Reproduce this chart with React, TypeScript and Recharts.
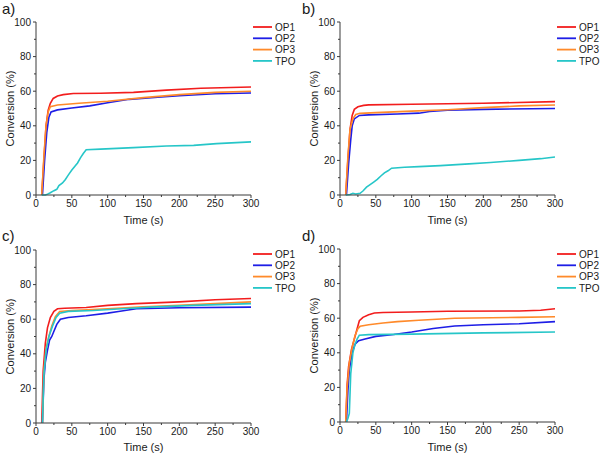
import React from 'react';
import { LineChart, Line, XAxis, YAxis } from 'recharts';

type Pt = [number, number];

// ---- Series names and colours ----
const seriesNames = ['OP1', 'OP2', 'OP3', 'TPO'];
const seriesColors = ['#f21d1d', '#1e1ee6', '#ff8a2a', '#26c6c8'];

// ---- Axis ticks ----
const timeTicks = [0, 25, 50, 75, 100, 125, 150, 175, 200, 225, 250, 275, 300];
const convTicks = [0, 10, 20, 30, 40, 50, 60, 70, 80, 90, 100];

// ---- Panel a) : [time (s), conversion (%)] ----
const aOP1: Pt[] = [[8, 0], [11, 20], [14, 40], [17, 49], [20, 53], [24, 55.8], [30, 57.2], [38, 58], [52, 58.7], [90, 58.8], [136, 59.3], [182, 60.6], [230, 61.7], [300, 62.4]];
const aOP2: Pt[] = [[9, 0], [12, 20], [15, 36], [18, 45], [21, 48], [30, 49.2], [50, 50.3], [75, 51.5], [100, 53.3], [130, 55.3], [170, 56.5], [200, 57.4], [250, 58.5], [300, 59]];
const aOP3: Pt[] = [[8, 0], [11, 22], [14, 40], [17, 48], [20, 51], [30, 52], [60, 53], [100, 54.2], [150, 56.3], [200, 58], [250, 59.3], [300, 60]];
const aTPO: Pt[] = [[8, 0], [13, 0], [16, 0.5], [20, 1.3], [25, 2.5], [29, 3.3], [32, 5.5], [37, 7], [41, 9], [45, 11.5], [50, 14.4], [54, 16.5], [58, 18.5], [62, 21.5], [66, 24], [70, 26.2], [90, 26.5], [136, 27.4], [182, 28.3], [220, 28.7], [252, 29.7], [300, 30.7]];

// ---- Panel b) ----
const bOP1: Pt[] = [[8, 0], [11, 20], [14, 38], [17, 46], [20, 49.5], [25, 51], [33, 51.8], [40, 52.1], [100, 52.5], [200, 53], [300, 54]];
const bOP2: Pt[] = [[9, 0], [12, 18], [15, 32], [17, 40], [20, 44], [27, 46], [40, 46.3], [80, 46.8], [110, 47.3], [125, 48.3], [150, 49], [200, 49.5], [300, 50]];
const bOP3: Pt[] = [[8, 0], [11, 22], [14, 38], [18, 44], [22, 46.5], [28, 47.2], [50, 47.6], [100, 48.5], [150, 49.3], [200, 50.5], [250, 51.5], [300, 52]];
const bTPO: Pt[] = [[8, 0], [14, 0.3], [18, 1], [22, 0.6], [28, 1], [32, 2.3], [37, 4.5], [42, 6], [47, 7.5], [52, 9], [57, 11], [62, 12.8], [67, 14], [72, 15.5], [90, 16], [110, 16.4], [140, 17], [180, 18], [210, 18.8], [250, 20], [280, 21], [300, 22]];

// ---- Panel c) ----
const cOP1: Pt[] = [[8, 0], [10, 30], [13, 46], [16, 55], [20, 61], [25, 64.5], [30, 66], [40, 66.3], [70, 66.8], [100, 68], [140, 69], [200, 70], [250, 71.2], [300, 72]];
const cOP2: Pt[] = [[9, 0], [11, 25], [13, 35], [16, 42], [19, 48], [22, 50], [25, 53], [29, 57], [34, 60], [45, 61], [70, 62], [100, 63.5], [115, 64.5], [140, 66], [200, 66.6], [300, 67]];
const cOP3: Pt[] = [[9, 0], [11, 30], [14, 43], [18, 50], [22, 56], [27, 61.5], [33, 64.5], [50, 65], [100, 66], [150, 67.2], [200, 68], [250, 69], [300, 70]];
const cTPO: Pt[] = [[9, 0], [11, 28], [14, 42], [18, 50], [23, 56], [28, 61], [33, 63.5], [45, 64.5], [80, 65], [120, 66], [160, 67], [220, 68], [300, 69]];

// ---- Panel d) ----
const dOP1: Pt[] = [[8, 0], [10, 22], [12, 32], [16, 42], [20, 48], [24, 54], [27, 58.5], [32, 60.5], [40, 62], [48, 63], [60, 63.3], [100, 63.6], [150, 64], [250, 64.2], [280, 64.6], [300, 65.5]];
const dOP2: Pt[] = [[9, 0], [11, 18], [13, 30], [17, 40], [21, 45], [26, 47], [35, 48], [50, 49.5], [75, 50.6], [100, 52], [130, 54], [160, 55.5], [200, 56.2], [250, 56.8], [300, 58]];
const dOP3: Pt[] = [[8, 0], [10, 20], [13, 34], [17, 43], [21, 50], [25, 54], [28, 55.3], [40, 56.2], [60, 57.2], [80, 58], [110, 58.8], [160, 60], [250, 60.5], [300, 60.8]];
const dTPO: Pt[] = [[9, 0], [11, 2], [13, 5], [15, 28], [18, 40], [21, 45], [24, 48], [27, 50.2], [40, 50.5], [100, 50.8], [200, 51.5], [300, 52]];

const FONT = '"Liberation Sans", Arial, sans-serif';
const AXIS = '#3a3a3a';
const TEXT = '#1a1a1a';

const toPoints = (pts: Pt[]) => pts.map(([t, v]) => ({ t, v }));

const XTick = (props: any) => {
  const { x, y, payload } = props;
  const major = payload.value % 50 === 0;
  return (
    <g>
      <line x1={x} x2={x} y1={y} y2={y + (major ? 3 : 2)} stroke={AXIS} strokeWidth={1} />
      {major && (
        <text x={x} y={y + 12} textAnchor="middle" fontSize={10} fontFamily={FONT} fill={TEXT}>
          {payload.value}
        </text>
      )}
    </g>
  );
};

const YTick = (props: any) => {
  const { x, y, payload } = props;
  const major = payload.value % 20 === 0;
  return (
    <g>
      <line x1={x - (major ? 3 : 2)} x2={x} y1={y} y2={y} stroke={AXIS} strokeWidth={1} />
      {major && (
        <text x={x - 5} y={y + 3.5} textAnchor="end" fontSize={10} fontFamily={FONT} fill={TEXT}>
          {payload.value}
        </text>
      )}
    </g>
  );
};

type PanelProps = {
  tag: string;
  series: Pt[][];
  left: number;
  top: number;
  axisWidth: number;
  plotTop: number;
  plotRight: number;
  plotBottom: number;
};

const W = 300;
const H = 227;

const Panel = ({ tag, series, left, top, axisWidth, plotTop, plotRight, plotBottom }: PanelProps) => {
  const legendX = plotRight + 2;
  return (
    <div style={{ position: 'absolute', left, top, width: W, height: H }}>
      <LineChart
        width={W}
        height={H}
        margin={{ top: plotTop, right: W - plotRight, left: 0, bottom: 0 }}
      >
        <XAxis
          dataKey="t"
          type="number"
          domain={[0, 300]}
          ticks={timeTicks}
          interval={0}
          height={H - plotBottom}
          tickSize={0}
          tickMargin={0}
          tickLine={false}
          tick={<XTick />}
          axisLine={{ stroke: AXIS, strokeWidth: 1 }}
          label={{ value: 'Time (s)', position: 'insideBottom', offset: 3, fontSize: 11, fontFamily: FONT, fill: TEXT }}
        />
        <YAxis
          type="number"
          domain={[0, 100]}
          ticks={convTicks}
          interval={0}
          width={axisWidth}
          tickSize={0}
          tickMargin={0}
          tickLine={false}
          tick={<YTick />}
          axisLine={{ stroke: AXIS, strokeWidth: 1 }}
          label={{
            value: 'Conversion (%)',
            angle: -90,
            position: 'insideLeft',
            offset: axisWidth - 26,
            fontSize: 11,
            fontFamily: FONT,
            fill: TEXT,
            style: { textAnchor: 'middle' },
          }}
        />
        {series.map((pts, i) => (
          <Line
            key={seriesNames[i]}
            data={toPoints(pts)}
            dataKey="v"
            name={seriesNames[i]}
            type="linear"
            stroke={seriesColors[i]}
            strokeWidth={1.6}
            dot={false}
            activeDot={false}
            isAnimationActive={false}
          />
        ))}
      </LineChart>
      <svg
        width={W}
        height={H}
        overflow="visible"
        style={{ position: 'absolute', left: 0, top: 0, pointerEvents: 'none', overflow: 'visible' }}
      >
        <text x={2} y={14} fontSize={15} fontFamily={FONT} fill={TEXT}>
          {tag}
        </text>
        {seriesNames.map((name, i) => {
          const y = 27 + i * 11.3;
          return (
            <g key={name}>
              <line x1={legendX} x2={legendX + 19} y1={y} y2={y} stroke={seriesColors[i]} strokeWidth={1.8} />
              <text x={legendX + 22} y={y + 3.6} fontSize={10} fontFamily={FONT} fill={TEXT}>
                {name}
              </text>
            </g>
          );
        })}
      </svg>
    </div>
  );
};

export default function App() {
  return (
    <div style={{ position: 'absolute', left: 0, top: 0, width: 600, height: 454, background: '#fff', overflow: 'hidden' }}>
      <Panel tag="a)" series={[aOP1, aOP2, aOP3, aTPO]} left={0} top={0} axisWidth={36} plotTop={22} plotRight={251} plotBottom={195} />
      <Panel tag="b)" series={[bOP1, bOP2, bOP3, bTPO]} left={300} top={0} axisWidth={40} plotTop={22} plotRight={255} plotBottom={195} />
      <Panel tag="c)" series={[cOP1, cOP2, cOP3, cTPO]} left={0} top={227} axisWidth={36} plotTop={23} plotRight={251} plotBottom={196} />
      <Panel tag="d)" series={[dOP1, dOP2, dOP3, dTPO]} left={300} top={227} axisWidth={40} plotTop={22} plotRight={255} plotBottom={195} />
    </div>
  );
}
